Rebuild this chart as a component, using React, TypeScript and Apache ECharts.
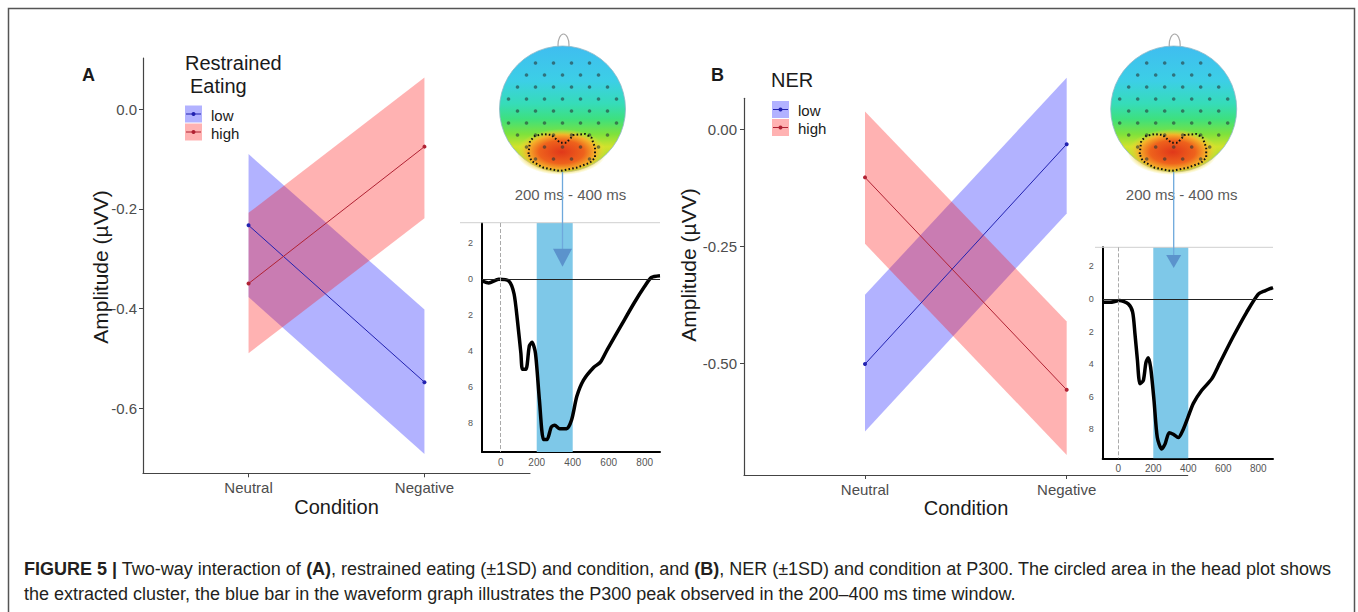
import React, { useEffect, useRef } from "react";
import * as echarts from "echarts";

// ---------- data ----------
const conditions = ["Neutral", "Negative"];

// Panel A: Restrained Eating
const aLowMean = [-0.233, -0.548];
const aLowLower = [-0.377, -0.692];
const aLowUpper = [-0.09, -0.402];
const aHighMean = [-0.35, -0.075];
const aHighLower = [-0.49, -0.219];
const aHighUpper = [-0.208, 0.064];
const aTicks = [-0.6, -0.4, -0.2, 0.0];

// Panel B: NER
const bLowMean = [-0.502, -0.032];
const bLowLower = [-0.646, -0.18];
const bLowUpper = [-0.354, 0.11];
const bHighMean = [-0.103, -0.557];
const bHighLower = [-0.245, -0.696];
const bHighUpper = [0.038, -0.411];
const bTicks = [-0.5, -0.25, 0.0];

// Waveform insets (ms, µV; negative is up)
const waveTimeA = [-101, -67, -11, 46, 74, 93, 112, 121, 140, 159, 174, 193, 215, 238, 257, 281, 300, 328, 366, 394, 423, 460, 516, 554, 592, 667, 742, 799, 837, 885];
const waveAmpA = [0.1, 0.2, 0, 0.1, 0.8, 2.3, 4.1, 5.0, 5.0, 3.7, 3.5, 4.1, 6.7, 8.9, 8.9, 8.2, 8.1, 8.3, 8.3, 7.8, 6.5, 5.6, 4.9, 4.6, 3.9, 2.6, 1.3, 0.4, -0.1, -0.2];
const waveTimeB = [-89, -47, 6, 57, 82, 95, 109, 124, 143, 158, 171, 185, 204, 223, 248, 267, 291, 314, 343, 371, 400, 429, 477, 534, 581, 657, 734, 800, 838, 884];
const waveAmpB = [0.2, 0.2, 0.1, 0.3, 0.8, 2.1, 3.7, 5.2, 5.0, 3.9, 3.6, 4.2, 6.2, 8.5, 9.2, 8.9, 8.2, 8.3, 8.5, 8.0, 7.2, 6.4, 5.6, 4.9, 3.9, 2.3, 0.8, -0.3, -0.5, -0.7];
const waveXTicks = [0, 200, 400, 600, 800];
const waveYTicks = [-2, 0, 2, 4, 6, 8];
const p300Window = [200, 400];

const FONT = "'Liberation Sans', Arial, Helvetica, sans-serif";
const BLUE_BAND = "rgba(0,0,255,0.3)";
const RED_BAND = "rgba(255,0,0,0.3)";
const BLUE_LINE = "#2222b0";
const RED_LINE = "#b02233";

function band(xi: number, yi: number, lower: number[], upper: number[], color: string) {
  return {
    type: "custom",
    xAxisIndex: xi,
    yAxisIndex: yi,
    silent: true,
    clip: false,
    data: [[0, lower[0], upper[0], 1, lower[1], upper[1]]],
    encode: { x: [0, 3], y: [1, 2, 4, 5] },
    renderItem: (_p: any, api: any) => {
      const p1 = api.coord([api.value(0), api.value(2)]);
      const p2 = api.coord([api.value(3), api.value(5)]);
      const p3 = api.coord([api.value(3), api.value(4)]);
      const p4 = api.coord([api.value(0), api.value(1)]);
      return { type: "polygon", shape: { points: [p1, p2, p3, p4] }, style: { fill: color } };
    },
  };
}

function meanLine(xi: number, yi: number, means: number[], color: string) {
  return {
    type: "line",
    xAxisIndex: xi,
    yAxisIndex: yi,
    silent: true,
    z: 4,
    data: means.map((v, i) => [i, v]),
    symbol: "circle",
    symbolSize: 4,
    lineStyle: { color, width: 1 },
    itemStyle: { color },
  };
}

function wave(xi: number, yi: number, t: number[], a: number[]) {
  return {
    type: "line",
    xAxisIndex: xi,
    yAxisIndex: yi,
    silent: true,
    z: 4,
    data: t.map((v, i) => [v, a[i]]),
    showSymbol: false,
    symbol: "none",
    smooth: 0.25,
    lineStyle: { color: "#000", width: 3.5 },
    markArea: {
      silent: true,
      itemStyle: { color: "#7ec8e8" },
      data: [[{ xAxis: p300Window[0] }, { xAxis: p300Window[1] }]],
    },
    markLine: {
      silent: true,
      symbol: ["none", "none"],
      label: { show: false },
      data: [
        { yAxis: 0, lineStyle: { color: "#222", width: 1, type: "solid" } },
        { xAxis: 0, lineStyle: { color: "#aaa", width: 1, type: "dashed" } },
      ],
    },
  };
}

function mainX(grid: number) {
  return {
    type: "value",
    gridIndex: grid,
    min: -0.6,
    max: 1.6,
    splitLine: { show: false },
    axisLine: { show: true, onZero: false, lineStyle: { color: "#444", width: 1.2 } },
    axisTick: { show: true, length: 4, customValues: [0, 1], lineStyle: { color: "#444" } },
    axisLabel: {
      customValues: [0, 1],
      formatter: (v: number) => conditions[Math.round(v)],
      color: "#4d4d4d",
      fontSize: 15,
      fontFamily: FONT,
      margin: 7,
    },
  };
}

function mainY(grid: number, min: number, max: number, ticks: number[], digits: number, margin: number) {
  return {
    type: "value",
    gridIndex: grid,
    min,
    max,
    splitLine: { show: false },
    axisLine: { show: true, onZero: false, lineStyle: { color: "#444", width: 1.2 } },
    axisTick: { show: true, length: 4, customValues: ticks, lineStyle: { color: "#444" } },
    axisLabel: {
      customValues: ticks,
      formatter: (v: number) => v.toFixed(digits),
      color: "#4d4d4d",
      fontSize: 15,
      fontFamily: FONT,
      margin,
    },
  };
}

function waveX(grid: number, min: number, max: number) {
  return {
    type: "value",
    gridIndex: grid,
    min,
    max,
    splitLine: { show: false },
    axisLine: { show: true, onZero: false, lineStyle: { color: "#000", width: 2 } },
    axisTick: { show: false },
    axisLabel: { customValues: waveXTicks, color: "#555", fontSize: 10, fontFamily: FONT, margin: 5 },
  };
}

function waveY(grid: number, min: number, max: number) {
  return {
    type: "value",
    gridIndex: grid,
    inverse: true,
    min,
    max,
    splitLine: { show: false },
    axisLine: { show: true, onZero: false, lineStyle: { color: "#000", width: 2 } },
    axisTick: { show: false },
    axisLabel: {
      customValues: waveYTicks,
      formatter: (v: number) => String(Math.abs(v)),
      color: "#555",
      fontSize: 9,
      fontFamily: FONT,
      margin: 9,
    },
  };
}

function txt(x: number, y: number, text: string, size: number, opts: any = {}) {
  return {
    type: "text",
    x,
    y,
    rotation: opts.rotation || 0,
    z: 20,
    silent: true,
    style: {
      text,
      fontSize: size,
      fontFamily: FONT,
      fontWeight: opts.bold ? "bold" : "normal",
      fill: opts.color || "#1a1a1a",
      align: opts.align || "left",
      textAlign: opts.align || "left",
      verticalAlign: "middle",
      textVerticalAlign: "middle",
      rich: opts.rich,
    },
  };
}

function legendKey(x: number, y: number, fill: string, color: string) {
  return [
    { type: "rect", z: 20, silent: true, shape: { x, y, width: 17, height: 17 }, style: { fill } },
    { type: "line", z: 21, silent: true, shape: { x1: x + 1, y1: y + 8.5, x2: x + 16, y2: y + 8.5 }, style: { stroke: color, lineWidth: 1 } },
    { type: "circle", z: 21, silent: true, shape: { cx: x + 8.5, cy: y + 8.5, r: 2 }, style: { fill: color } },
  ];
}

const contour = [
  [-34, 45], [-32.5, 32], [-27.5, 27], [-19, 25], [-11, 26], [-2.5, 33.7], [4, 33.7], [11, 26],
  [22.5, 25], [29, 28.7], [32.5, 38.7], [32.5, 48.7], [27.5, 53.7], [14, 58.7], [-2.5, 62],
  [-19, 58.7], [-31, 52],
];

function headPlot(cx: number, cy: number, r: number, tipY: number, headH: number, headHalf: number) {
  const els: any[] = [];
  els.push({
    type: "ellipse", z: 10, silent: true,
    shape: { cx: cx + 1, cy: cy - r - 1, rx: 5.5, ry: 11 },
    style: { fill: "none", stroke: "#aaa", lineWidth: 1.2 },
  });
  els.push({
    type: "circle", z: 11, silent: true,
    shape: { cx, cy, r },
    style: {
      fill: new echarts.graphic.LinearGradient(0, 0, 0, 1, [
        { offset: 0, color: "#3fbdf0" },
        { offset: 0.28, color: "#3ccfe6" },
        { offset: 0.46, color: "#36dcb8" },
        { offset: 0.58, color: "#3ee07e" },
        { offset: 0.7, color: "#7ee23c" },
        { offset: 0.8, color: "#d2e22c" },
        { offset: 0.92, color: "#98de38" },
        { offset: 1, color: "#5ccf40" },
      ]),
      stroke: "#8fb8c8",
      lineWidth: 0.8,
    },
  });
  els.push({
    type: "ellipse", z: 12, silent: true,
    shape: { cx: cx - 1, cy: cy + 43, rx: 45, ry: 23 },
    style: {
      fill: new echarts.graphic.RadialGradient(0.5, 0.5, 0.5, [
        { offset: 0, color: "#e0381a" },
        { offset: 0.5, color: "#ee621c" },
        { offset: 0.75, color: "#f5b02a" },
        { offset: 1, color: "rgba(235,230,50,0)" },
      ]),
    },
  });
  const rows = [-46, -34, -22, -10, 2, 14, 26, 38, 50];
  rows.forEach((dy, i) => {
    const off = (i % 2) * 9;
    for (let dx = -63 + off; dx <= 63; dx += 18) {
      if (Math.sqrt(dx * dx + dy * dy) < r - 4) {
        els.push({
          type: "circle", z: 13, silent: true,
          shape: { cx: cx + dx, cy: cy + dy, r: 1.8 },
          style: { fill: "rgba(40,55,55,0.6)" },
        });
      }
    }
  });
  els.push({
    type: "polygon", z: 14, silent: true,
    shape: { points: contour.map(([dx, dy]) => [cx + dx, cy + dy]) },
    style: { fill: "none", stroke: "#111", lineWidth: 2, lineDash: [1.6, 2.2] },
  });
  els.push(txt(cx + 8, cy + 85, "200 ms - 400 ms", 15, { color: "#5a5a5a", align: "center" }));
  els.push({
    type: "line", z: 21, silent: true,
    shape: { x1: cx, y1: cy + r, x2: cx, y2: tipY - 4 },
    style: { stroke: "#6ea8dc", lineWidth: 1.3 },
  });
  els.push({
    type: "polygon", z: 21, silent: true,
    shape: { points: [[cx - headHalf, tipY - headH], [cx + headHalf, tipY - headH], [cx, tipY]] },
    style: { fill: "#5b93cc" },
  });
  return els;
}

const cap1 =
  "{b|FIGURE 5 |}{n| Two-way interaction of }{b|(A)}{n|, restrained eating (±1SD) and condition, and }{b|(B)}{n|, NER (±1SD) and condition at P300. The circled area in the head plot shows}";
const cap2 =
  "the extracted cluster, the blue bar in the waveform graph illustrates the P300 peak observed in the 200–400 ms time window.";
const capRich = {
  b: { fontSize: 18, fontFamily: FONT, fontWeight: "bold", fill: "#231f20", color: "#231f20" },
  n: { fontSize: 18, fontFamily: FONT, fill: "#231f20", color: "#231f20" },
};

const graphicEls: any[] = [
  { type: "rect", z: 0, silent: true, shape: { x: 8.5, y: 8.5, width: 1346, height: 640 }, style: { fill: "none", stroke: "#555", lineWidth: 1.5 } },
  // panel letters
  txt(82, 75, "A", 18, { bold: true }),
  txt(711, 75, "B", 18, { bold: true }),
  // legend A
  txt(185, 63, "Restrained", 20),
  txt(190, 86, "Eating", 20),
  ...legendKey(185, 105.5, BLUE_BAND, BLUE_LINE),
  ...legendKey(185, 123.5, RED_BAND, RED_LINE),
  txt(211, 115, "low", 15),
  txt(211, 133, "high", 15),
  // legend B
  txt(771, 80, "NER", 20),
  ...legendKey(772, 101, BLUE_BAND, BLUE_LINE),
  ...legendKey(772, 119, RED_BAND, RED_LINE),
  txt(798, 110, "low", 15),
  txt(798, 128.5, "high", 15),
  // axis titles
  txt(100, 267, "Amplitude (µVV)", 21, { rotation: Math.PI / 2, align: "center" }),
  txt(688, 265, "Amplitude (µVV)", 21, { rotation: Math.PI / 2, align: "center" }),
  txt(336.5, 507, "Condition", 20, { align: "center" }),
  txt(966, 508, "Condition", 20, { align: "center" }),
  // waveform top rules
  { type: "line", z: 5, silent: true, shape: { x1: 460, y1: 222.7, x2: 660, y2: 222.7 }, style: { stroke: "#cfcfcf", lineWidth: 1 } },
  { type: "line", z: 5, silent: true, shape: { x1: 1095, y1: 247.3, x2: 1273, y2: 247.3 }, style: { stroke: "#cfcfcf", lineWidth: 1 } },
  ...headPlot(562.5, 109, 63, 266.7, 18, 9.5),
  ...headPlot(1173.7, 109, 63, 268, 13, 7.5),
  // caption
  txt(24, 569, cap1, 18, { rich: capRich, color: "#231f20" }),
  txt(24, 594, cap2, 18, { color: "#231f20" }),
];

const option: any = {
  animation: false,
  backgroundColor: "#fff",
  grid: [
    { left: 143, top: 58, width: 387, height: 415.3 },
    { left: 482, top: 223, width: 178, height: 229 },
    { left: 744, top: 98.3, width: 443.7, height: 376.7 },
    { left: 1102.7, top: 247.3, width: 170.3, height: 211 },
  ],
  xAxis: [mainX(0), waveX(1, -104, 885), mainX(2), waveX(3, -89, 884)],
  yAxis: [
    mainY(0, -0.731, 0.103, aTicks, 1, 6),
    waveY(1, -3.13, 9.59),
    mainY(2, -0.739, 0.066, bTicks, 2, 7),
    waveY(3, -3.17, 9.77),
  ],
  series: [
    band(0, 0, aLowLower, aLowUpper, BLUE_BAND),
    band(0, 0, aHighLower, aHighUpper, RED_BAND),
    meanLine(0, 0, aLowMean, BLUE_LINE),
    meanLine(0, 0, aHighMean, RED_LINE),
    band(2, 2, bLowLower, bLowUpper, BLUE_BAND),
    band(2, 2, bHighLower, bHighUpper, RED_BAND),
    meanLine(2, 2, bLowMean, BLUE_LINE),
    meanLine(2, 2, bHighMean, RED_LINE),
    wave(1, 1, waveTimeA, waveAmpA),
    wave(3, 3, waveTimeB, waveAmpB),
  ],
  graphic: { elements: graphicEls },
};

export default function App() {
  const ref = useRef<HTMLDivElement>(null);
  useEffect(() => {
    const chart = echarts.init(ref.current!, null, { renderer: "svg" });
    chart.setOption(option);
    return () => chart.dispose();
  }, []);
  return <div ref={ref} style={{ position: "absolute", left: 0, top: 0, width: 1358, height: 612 }} />;
}
